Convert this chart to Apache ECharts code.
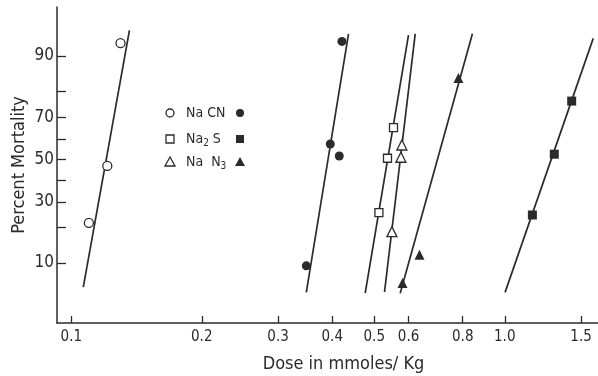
<!DOCTYPE html>
<html>
<head>
<meta charset="utf-8">
<script src="https://cdn.jsdelivr.net/npm/echarts@6/dist/echarts.min.js"></script>
<style>html,body{margin:0;padding:0;background:#fff}#c{width:598px;height:376px}</style>
</head>
<body>
<div id="c"></div>
<script>
// ---- data (dose in mmoles/Kg, percent mortality) ----
const xTickValues = [0.1, 0.2, 0.3, 0.4, 0.5, 0.6, 0.8, 1.0, 1.5];
const xTickLabels = ['0.1', '0.2', '0.3', '0.4', '0.5', '0.6', '0.8', '1.0', '1.5'];
const yTickPcts = [10, 20, 30, 40, 50, 60, 70, 80, 90];
const yLabelPcts = [10, 30, 50, 70, 90];
const xAxisRange = [0.0927, 1.641];
const yAxisRangePct = [2.15, 97.04];

// NaCN
const nacnOpenLineDose = [0.1066, 0.1362];
const nacnOpenLinePct = [5.7, 94.5];
const nacnOpenDose = [0.1299, 0.1211, 0.1098];
const nacnOpenPct = [92.5, 46.8, 21.6];
const nacnFilledLineDose = [0.3485, 0.4361];
const nacnFilledLinePct = [5.0, 94.0];
const nacnFilledDose = [0.4211, 0.3958, 0.4152, 0.3485];
const nacnFilledPct = [92.8, 57.6, 51.7, 9.4];
// Na2S
const na2sOpenLineDose = [0.4765, 0.5997];
const na2sOpenLinePct = [4.9, 93.8];
const na2sOpenDose = [0.5538, 0.5364, 0.5125];
const na2sOpenPct = [65.3, 50.6, 25.5];
const na2sFilledLineDose = [1.0016, 1.600];
const na2sFilledLinePct = [5.0, 93.3];
const na2sFilledDose = [1.427, 1.301, 1.158];
const na2sFilledPct = [76.5, 52.6, 24.6];
// NaN3
const nan3OpenLineDose = [0.5280, 0.6215];
const nan3OpenLinePct = [5.05, 94.0];
const nan3OpenDose = [0.5790, 0.5760, 0.5491];
const nan3OpenPct = [57.1, 51.1, 18.6];
const nan3FilledLineDose = [0.5739, 0.8422];
const nan3FilledLinePct = [4.9, 94.0];
const nan3FilledDose = [0.6358, 0.5810, 0.7818];
const nan3FilledPct = [11.9, 6.3, 84.3];

// ---- probit scale helpers ----
function probit(pct) {
  const p = pct / 100;
  const a = [-3.969683028665376e+01, 2.209460984245205e+02, -2.759285104469687e+02, 1.383577518672690e+02, -3.066479806614716e+01, 2.506628277459239e+00];
  const b = [-5.447609879822406e+01, 1.615858368580409e+02, -1.556989798598866e+02, 6.680131188771972e+01, -1.328068155288572e+01];
  const c = [-7.784894002430293e-03, -3.223964580411365e-01, -2.400758277161838e+00, -2.549732539343734e+00, 4.374664141464968e+00, 2.938163982698783e+00];
  const d = [7.784695709041462e-03, 3.224671290700398e-01, 2.445134137142996e+00, 3.754408661907416e+00];
  const pl = 0.02425, ph = 1 - pl;
  let q, r;
  if (p < pl) {
    q = Math.sqrt(-2 * Math.log(p));
    return (((((c[0]*q+c[1])*q+c[2])*q+c[3])*q+c[4])*q+c[5]) / ((((d[0]*q+d[1])*q+d[2])*q+d[3])*q+1);
  } else if (p <= ph) {
    q = p - 0.5; r = q * q;
    return (((((a[0]*r+a[1])*r+a[2])*r+a[3])*r+a[4])*r+a[5])*q / (((((b[0]*r+b[1])*r+b[2])*r+b[3])*r+b[4])*r+1);
  } else {
    q = Math.sqrt(-2 * Math.log(1 - p));
    return -(((((c[0]*q+c[1])*q+c[2])*q+c[3])*q+c[4])*q+c[5]) / ((((d[0]*q+d[1])*q+d[2])*q+d[3])*q+1);
  }
}
function pts(dose, pct) { return dose.map((x, i) => [x, probit(pct[i])]); }

const INK = '#2b2b2b';
const FONT = 'DejaVu Sans Condensed, DejaVu Sans, sans-serif';

function lineS(dose, pct) {
  return { type: 'line', data: pts(dose, pct), symbol: 'none', silent: true,
    lineStyle: { color: INK, width: 1.7 } };
}
function scatterS(dose, pct, symbol, filled, size) {
  return { type: 'scatter', data: pts(dose, pct), symbol: symbol, symbolSize: size,
    itemStyle: { color: filled ? INK : '#fff', borderColor: INK, borderWidth: filled ? 0 : 1.3, opacity: 1 }, z: 5 };
}

const chart = echarts.init(document.getElementById('c'), null, { renderer: 'canvas' });

// legend drawn as graphics
const legendRows = [
  { y: 113, sym: 'circle', text: 'Na CN' },
  { y: 139, sym: 'square', text: 'Na{sub|2} S' },
  { y: 162, sym: 'triangle', text: 'Na  N{sub|3}' }
];
function legendMark(sym, cx, cy, filled) {
  const style = { fill: filled ? INK : '#fff', stroke: INK, lineWidth: filled ? 0 : 1.3 };
  if (sym === 'circle') return { type: 'circle', shape: { cx: cx, cy: cy, r: 4 }, style: style };
  if (sym === 'square') return { type: 'rect', shape: { x: cx - 4, y: cy - 4, width: 8, height: 8 }, style: style };
  return { type: 'polygon', shape: { points: [[cx, cy - 5], [cx + 5, cy + 4], [cx - 5, cy + 4]] }, style: style };
}
const graphics = [];
legendRows.forEach(r => {
  graphics.push(legendMark(r.sym, 170, r.y, false));
  graphics.push({ type: 'text', x: 186, y: r.y, style: { text: r.text, fill: INK, font: '14px ' + FONT,
    verticalAlign: 'middle', rich: { sub: { fontSize: 10, fontFamily: FONT, fill: INK, padding: [9, 0, 0, 0] } } } });
  graphics.push(legendMark(r.sym, 240, r.y, true));
});

chart.setOption({
  animation: false,
  backgroundColor: '#fff',
  grid: { left: 57, right: 0, top: 7, bottom: 53, containLabel: false, outerBoundsMode: 'none' },
  xAxis: {
    type: 'log', logBase: 10, min: xAxisRange[0], max: xAxisRange[1],
    name: 'Dose in mmoles/ Kg', nameLocation: 'middle', nameGap: 32,
    nameTextStyle: { fontFamily: FONT, fontSize: 18, color: INK, padding: [0, 0, 0, 32] },
    axisLine: { show: true, onZero: false, lineStyle: { color: INK, width: 1.5 } },
    axisTick: { show: true, inside: true, length: 7, customValues: xTickValues, lineStyle: { color: INK, width: 1.3 } },
    axisLabel: { customValues: xTickValues, fontFamily: FONT, fontSize: 15, color: INK, margin: 7,
      formatter: v => { const i = xTickValues.findIndex(t => Math.abs(t - v) < 1e-6); return i >= 0 ? xTickLabels[i] : ''; } },
    splitLine: { show: false }, minorTick: { show: false }
  },
  yAxis: {
    type: 'value', min: probit(yAxisRangePct[0]), max: probit(yAxisRangePct[1]),
    name: 'Percent Mortality', nameLocation: 'middle', nameGap: 29, nameRotate: 90, nameMoveOverlap: false,
    nameTextStyle: { fontFamily: FONT, fontSize: 18, color: INK },
    axisLine: { show: true, onZero: false, lineStyle: { color: INK, width: 1.5 } },
    axisTick: { show: true, inside: true, length: 9, customValues: yTickPcts.map(probit), lineStyle: { color: INK, width: 1.3 } },
    axisLabel: { customValues: yLabelPcts.map(probit), fontFamily: FONT, fontSize: 17, color: INK, margin: 3,
      formatter: v => { let best = 0; yLabelPcts.forEach((p, i) => { if (Math.abs(probit(p) - v) < Math.abs(probit(yLabelPcts[best]) - v)) best = i; }); return String(yLabelPcts[best]); } },
    splitLine: { show: false }
  },
  graphic: graphics,
  series: [
    lineS(nacnOpenLineDose, nacnOpenLinePct),
    scatterS(nacnOpenDose, nacnOpenPct, 'circle', false, 9),
    lineS(nacnFilledLineDose, nacnFilledLinePct),
    scatterS(nacnFilledDose, nacnFilledPct, 'circle', true, 9),
    lineS(na2sOpenLineDose, na2sOpenLinePct),
    scatterS(na2sOpenDose, na2sOpenPct, 'rect', false, 8),
    lineS(na2sFilledLineDose, na2sFilledLinePct),
    scatterS(na2sFilledDose, na2sFilledPct, 'rect', true, 9),
    lineS(nan3OpenLineDose, nan3OpenLinePct),
    scatterS(nan3OpenDose, nan3OpenPct, 'triangle', false, 10),
    lineS(nan3FilledLineDose, nan3FilledLinePct),
    scatterS(nan3FilledDose, nan3FilledPct, 'triangle', true, 10)
  ]
});
</script>
</body>
</html>
